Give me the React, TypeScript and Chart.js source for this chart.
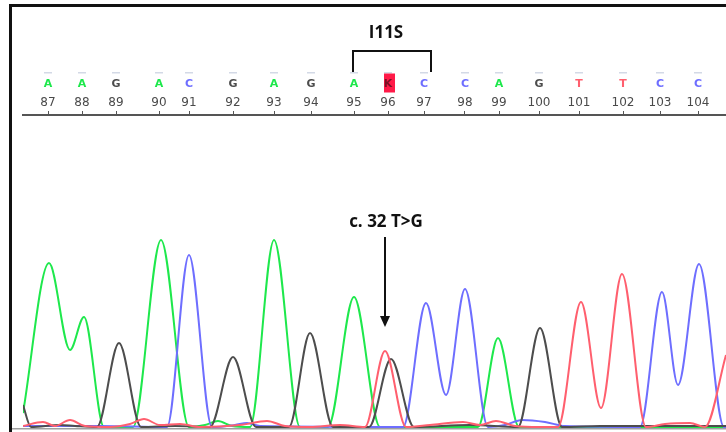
import React, { useEffect, useRef } from "react";
import { Chart, registerables } from "chart.js";

Chart.register(...registerables);

// Base numbering, called bases and their scan positions along the trace
const baseNumbers = [87, 88, 89, 90, 91, 92, 93, 94, 95, 96, 97, 98, 99, 100, 101, 102, 103, 104];
const baseCalls = ["A", "A", "G", "A", "C", "G", "A", "G", "A", "K", "C", "C", "A", "G", "T", "T", "C", "C"];
const basePositions = [48, 82, 116, 159, 189, 233, 274, 311, 354, 388, 424, 465, 499, 539, 579, 623, 660, 698];

// Trace signal, [scan, intensity]
const traceA: [number, number][] = [
  [23, 14], [49, 164], [70, 77], [84, 110], [104, 0], [133, 0], [161, 187], [189, 0],
  [205, 2], [218, 6], [232, 1], [250, 0], [274, 187], [300, 0], [328, 0], [354, 130],
  [380, 0], [478, 0], [498, 89], [519, 0], [620, 0], [726, 0],
];
const traceC: [number, number][] = [
  [23, 1], [100, 1], [167, 0], [189, 172], [212, 0], [235, 2], [247, 4], [260, 1],
  [403, 0], [426, 124], [446, 32], [465, 138], [488, 0], [505, 2], [522, 7], [545, 5],
  [565, 1], [640, 0], [662, 135], [678, 42], [699, 163], [724, 0], [726, 0],
];
const traceG: [number, number][] = [
  [23, 22], [31, 0], [60, 2], [75, 1], [97, 0], [119, 84], [141, 0], [175, 1], [210, 0],
  [233, 70], [256, 0], [289, 0], [310, 94], [333, 0], [369, 0], [391, 68], [414, 0],
  [470, 2], [518, 0], [540, 99], [562, 0], [600, 1], [726, 1],
];
const traceT: [number, number][] = [
  [23, 1], [43, 5], [55, 1], [70, 7], [85, 1], [110, 0], [130, 3], [144, 8], [160, 2],
  [180, 3], [200, 0], [240, 2], [267, 6], [285, 1], [310, 0], [340, 2], [365, 0],
  [385, 76], [406, 0], [430, 2], [463, 5], [480, 2], [496, 6], [515, 1], [540, 0],
  [558, 0], [581, 125], [601, 19], [622, 153], [646, 0], [665, 3], [690, 4], [705, 0],
  [726, 72],
];

const mutationTitle = "I11S";
const mutationLabel = "c. 32 T>G";
const mutationBase = 96;
const bracketFrom = 95;
const bracketTo = 97;

const COLORS: Record<string, string> = {
  A: "#1ee84c",
  C: "#6e6eff",
  G: "#4d4d4d",
  T: "#ff5f6e",
  K: "#7a1226",
};

export default function App() {
  const ref = useRef<HTMLCanvasElement | null>(null);

  useEffect(() => {
    document.body.style.margin = "0";
    const canvas = ref.current;
    if (!canvas) return;

    const posOf = (n: number) => basePositions[baseNumbers.indexOf(n)];

    const decor = {
      id: "decor",
      beforeDraw(chart: any) {
        const ctx = chart.ctx;
        const x = chart.scales.x;
        ctx.save();
        ctx.fillStyle = "#ffffff";
        ctx.fillRect(0, 0, chart.width, chart.height);
        // quality bars
        ctx.fillStyle = "#d3d9e6";
        basePositions.forEach((p) => {
          const px = x.getPixelForValue(p);
          ctx.fillRect(px - 4, 72, 8, 1.5);
        });
        // mutation box
        const mp = x.getPixelForValue(posOf(mutationBase));
        ctx.fillStyle = "#ff1a48";
        ctx.fillRect(mp - 4, 73.5, 11, 19);
        ctx.restore();
      },
      afterDraw(chart: any) {
        const ctx = chart.ctx;
        const x = chart.scales.x;
        ctx.save();
        // frame
        ctx.fillStyle = "#111111";
        ctx.fillRect(9, 4, 3, chart.height - 4);
        ctx.fillRect(9, 4, chart.width - 9, 3);
        // bottom line
        ctx.fillStyle = "#a0a0a0";
        ctx.fillRect(12, 428, chart.width - 12, 1.5);
        // bracket
        const l = x.getPixelForValue(posOf(bracketFrom)) - 1;
        const r = x.getPixelForValue(posOf(bracketTo)) + 7;
        ctx.strokeStyle = "#111111";
        ctx.lineWidth = 2;
        ctx.beginPath();
        ctx.moveTo(l, 72);
        ctx.lineTo(l, 51);
        ctx.lineTo(r, 51);
        ctx.lineTo(r, 72);
        ctx.stroke();
        const mp = x.getPixelForValue(posOf(mutationBase));
        // title
        ctx.fillStyle = "#111111";
        ctx.font = "bold 17px 'Open Sans'";
        ctx.textAlign = "center";
        ctx.textBaseline = "alphabetic";
        ctx.fillText(mutationTitle, mp - 2, 38);
        ctx.fillText(mutationLabel, mp - 2, 227);
        // arrow
        const ax = mp - 3;
        ctx.beginPath();
        ctx.moveTo(ax, 237);
        ctx.lineTo(ax, 318);
        ctx.stroke();
        ctx.beginPath();
        ctx.moveTo(ax - 5, 316);
        ctx.lineTo(ax + 5, 316);
        ctx.lineTo(ax, 327);
        ctx.closePath();
        ctx.fill();
        ctx.restore();
      },
    };

    const mk = (label: string, pts: [number, number][]) => ({
      label,
      data: pts.map(([a, b]) => ({ x: a, y: b })),
      borderColor: COLORS[label],
      borderWidth: 2,
      pointRadius: 0,
      fill: false,
      cubicInterpolationMode: "monotone" as const,
    });

    const chart = new Chart(canvas, {
      type: "line",
      data: {
        datasets: [mk("T", traceT), mk("G", traceG), mk("C", traceC), mk("A", traceA)],
      },
      options: {
        animation: false,
        responsive: false,
        layout: { padding: { top: 73, left: 23, right: 0, bottom: 2 } },
        plugins: { legend: { display: false }, tooltip: { enabled: false } },
        scales: {
          x: {
            type: "linear",
            position: "top",
            min: 23,
            max: 726,
            weight: 0,
            afterBuildTicks: (s: any) => {
              s.ticks = basePositions.map((v) => ({ value: v }));
            },
            afterFit: (s: any) => {
              s.height = 22;
            },
            grid: { drawOnChartArea: false, drawTicks: true, tickLength: 4, color: "#555555", lineWidth: 1 },
            border: { display: true, color: "#555555", width: 2 },
            ticks: {
              autoSkip: false,
              maxRotation: 0,
              padding: 1,
              color: "#4a4a4a",
              font: { family: "'DejaVu Sans'", size: 12 },
              callback: (_v: any, i: number) => String(baseNumbers[i]),
            },
          },
          xb: {
            type: "linear",
            position: "top",
            min: 23,
            max: 726,
            weight: 1,
            afterBuildTicks: (s: any) => {
              s.ticks = basePositions.map((v) => ({ value: v }));
            },
            afterFit: (s: any) => {
              s.height = 20;
            },
            grid: { display: false, drawTicks: false, tickLength: 0 },
            border: { display: false },
            ticks: {
              autoSkip: false,
              maxRotation: 0,
              padding: 2,
              color: (c: any) => COLORS[baseCalls[c.index]] || "#444",
              font: { family: "'DejaVu Sans'", size: 11, weight: "bold" },
              callback: (_v: any, i: number) => baseCalls[i],
            },
          },
          y: { display: false, min: -3, max: 312 },
        },
      },
      plugins: [decor],
    });
    return () => chart.destroy();
  }, []);

  return (
    <div style={{ position: "fixed", left: 0, top: 0, width: 726, height: 432, background: "#fff" }}>
      <canvas ref={ref} width={726} height={432} />
    </div>
  );
}
